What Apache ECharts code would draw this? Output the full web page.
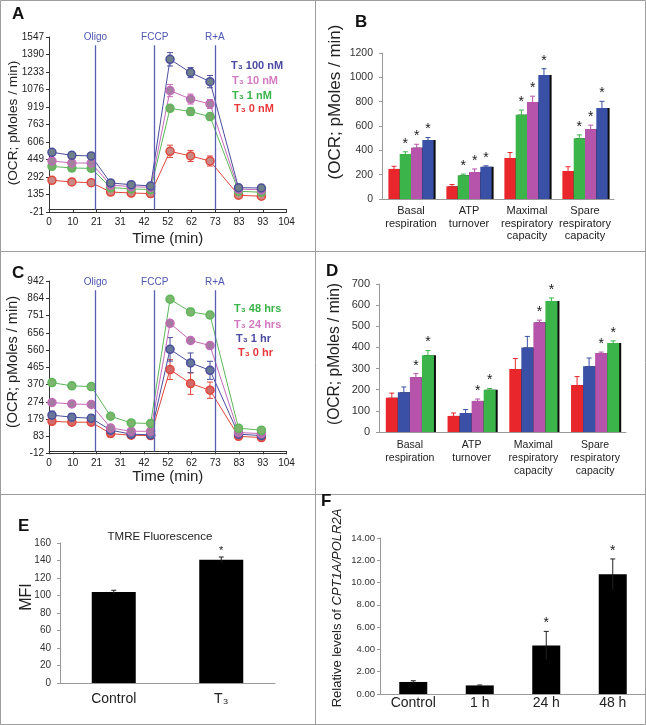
<!DOCTYPE html>
<html><head><meta charset="utf-8">
<script src="https://cdn.jsdelivr.net/npm/echarts@6/dist/echarts.min.js"></script>
<style>html,body{margin:0;padding:0;background:#fff}#c{width:646px;height:725px}</style>
</head><body><div id="c"></div><script>
// ---------- DATA ----------
const timeMin = [1.3, 10, 18.5, 27, 36, 44.5, 53, 62, 70.5, 83, 93];
const xTicksA = ['0','10','21','31','42','52','62','73','83','93','104'];
const yTicksA = ['-21','135','292','449','606','763','919','1076','1233','1390','1547'];
const yTicksC = ['-12','83','179','274','370','465','560','656','751','864','942'];
const injections = ['Oligo','FCCP','R+A'];
const injectionTimes = [20.3, 46.3, 72.6];

// Panel A (dose)
const a100 = [514, 487, 481, 239, 224, 212, 1347, 1228, 1147, 197, 194];
const a100Err = [20, 18, 18, 12, 10, 10, 60, 45, 55, 10, 10];
const a10 = [436, 418, 418, 220, 206, 200, 1067, 991, 947, 184, 178];
const a10Err = [15, 15, 15, 10, 10, 10, 55, 45, 40, 10, 10];
const a1 = [388, 373, 370, 198, 186, 180, 908, 879, 834, 165, 156];
const a1Err = [15, 15, 15, 10, 10, 10, 25, 35, 30, 10, 10];
const a0 = [263, 248, 242, 158, 149, 144, 523, 481, 436, 129, 120];
const a0Err = [15, 12, 12, 10, 10, 10, 55, 50, 45, 10, 10];

// Panel C (time)
const c48 = [380, 362, 358, 194, 157, 154, 841, 771, 754, 128, 117];
const c48Err = [15, 10, 10, 8, 6, 6, 15, 20, 20, 6, 6];
const c24 = [270, 262, 259, 129, 111, 111, 708, 613, 585, 104, 98];
const c24Err = [10, 8, 8, 8, 6, 6, 10, 10, 10, 6, 6];
const c1 = [200, 189, 183, 117, 95, 91, 564, 489, 448, 95, 87];
const c1Err = [22, 20, 18, 8, 6, 6, 65, 55, 50, 6, 6];
const c0 = [166, 161, 161, 98, 89, 87, 452, 375, 338, 83, 76];
const c0Err = [15, 12, 10, 8, 6, 6, 55, 60, 45, 6, 6];

// Panels B and D
const respCats = ['Basal\nrespiration', 'ATP\nturnover', 'Maximal\nrespiratory\ncapacity', 'Spare\nrespiratory\ncapacity'];
const b0 = [247, 104, 337, 230];   const b0Err = [22, 15, 45, 35];
const b1 = [370, 195, 693, 499];   const b1Err = [18, 10, 38, 28];
const b10 = [422, 222, 797, 575];  const b10Err = [28, 25, 48, 32];
const b100 = [485, 265, 1019, 748]; const b100Err = [20, 8, 52, 55];
const d0 = [162, 76, 298, 222];    const d0Err = [22, 14, 50, 40];
const d1 = [188, 90, 400, 311];    const d1Err = [25, 16, 52, 39];
const d24 = [260, 147, 519, 374];  const d24Err = [16, 9, 10, 4];
const d48 = [363, 200, 620, 421];  const d48Err = [22, 6, 14, 10];

// Panel E
const eCats = ['Control', 'T₃'];
const eVals = [104, 141];
const eErr = [2, 3];
const eStar = [0, 1];
// Panel F
const fCats = ['Control', '1 h', '24 h', '48 h'];
const fVals = [1.08, 0.77, 4.36, 10.74];
const fErr = [0.11, 0.04, 1.26, 1.38];
const fStar = [0, 0, 1, 1];

// ---------- STYLE ----------
const FONT = "'Liberation Sans', Arial, sans-serif";
const RED = '#e8262b', GREEN = '#3bb44a', MAG = '#b653aa', BLUE = '#3a50a6';

const chart = echarts.init(document.getElementById('c'), null, {renderer: 'canvas', width: 646, height: 725});

function lookupFmt(labels, min, step) {
  return v => { const i = Math.round((v - min) / step); return labels[i] !== undefined ? labels[i] : ''; };
}

function errLine(xi, vals, errs, color) {
  return {
    type: 'custom', xAxisIndex: xi, yAxisIndex: xi, z: 3, silent: true,
    data: timeMin.map((t, i) => [t, vals[i], errs[i]]),
    renderItem(params, api) {
      const t = api.value(0), v = api.value(1), e = api.value(2);
      const lo = api.coord([t, v - e]), hi = api.coord([t, v + e]);
      const c = 3, st = {stroke: color, lineWidth: 1};
      return {type: 'group', children: [
        {type: 'line', shape: {x1: lo[0], y1: lo[1], x2: hi[0], y2: hi[1]}, style: st},
        {type: 'line', shape: {x1: hi[0] - c, y1: hi[1], x2: hi[0] + c, y2: hi[1]}, style: st},
        {type: 'line', shape: {x1: lo[0] - c, y1: lo[1], x2: lo[0] + c, y2: lo[1]}, style: st}
      ]};
    }
  };
}
function lineSeries(xi, vals, color, fill, extra) {
  return Object.assign({
    type: 'line', xAxisIndex: xi, yAxisIndex: xi, z: 4,
    data: timeMin.map((t, i) => [t, vals[i]]),
    symbol: 'circle', symbolSize: 8, showAllSymbol: true,
    lineStyle: {color: color, width: 1},
    itemStyle: {color: fill, borderColor: color, borderWidth: 1.5}
  }, extra || {});
}
function markLines(yTop, yMin) {
  const data = injectionTimes.map((t, i) => [{coord: [t, 0], name: injections[i]}, {coord: [t, yTop]}]);
  data.push([{coord: [0, yMin], lineStyle: {color: '#333', width: 1}, label: {show: false}}, {coord: [104, yMin]}]);
  return {
    silent: true, symbol: ['none', 'none'], animation: false,
    lineStyle: {color: '#5a5fb2', width: 1.3, type: 'solid'},
    label: {show: true, position: 'end', formatter: '{b}', color: '#4d55b0', fontSize: 10, fontFamily: FONT, distance: 3},
    data: data
  };
}
function barSeries(ax, vals, color) {
  return {
    type: 'bar', xAxisIndex: ax, yAxisIndex: ax, data: vals, barGap: '0%', barCategoryGap: '22%',
    itemStyle: {color: color, shadowColor: 'rgba(0,0,0,0.95)', shadowOffsetX: 2, shadowOffsetY: 0, shadowBlur: 0}
  };
}
function errBar(ax, vals, errs, stars, idx, n, gap, color, starSize) {
  return {
    type: 'custom', xAxisIndex: ax, yAxisIndex: ax, z: 5, silent: true,
    data: vals.map((v, i) => [i, v, errs[i], stars[i]]),
    renderItem(params, api) {
      const ci = api.value(0), v = api.value(1), e = api.value(2), s = api.value(3);
      const band = api.size([1, 0])[0];
      const base = api.coord([ci, v]);
      let x = base[0];
      if (n > 1) { const total = band * (1 - gap); const w = total / n; x = base[0] - total / 2 + (idx + 0.5) * w; }
      const top = api.coord([ci, v + e])[1], bot = api.coord([ci, v - e])[1];
      const c = 2.5, st = {stroke: color, lineWidth: 1};
      const ch = [
        {type: 'line', shape: {x1: x, y1: bot, x2: x, y2: top}, style: st},
        {type: 'line', shape: {x1: x - c, y1: top, x2: x + c, y2: top}, style: st}
      ];
      if (s) ch.push({type: 'text', x: x, y: top - 1, style: {text: '*', fontSize: starSize, fontFamily: FONT, fill: '#1a1a1a', align: 'center', verticalAlign: 'bottom'}});
      return {type: 'group', children: ch};
    }
  };
}

const axisTxt = {fontFamily: FONT, color: '#222'};
const grids = [
  {left: 49, top: 37, width: 237.5, height: 175},      // A
  {left: 382, top: 53, width: 232, height: 146},       // B
  {left: 49, top: 281, width: 237.5, height: 172.5},   // C
  {left: 379, top: 284, width: 247, height: 148},      // D
  {left: 60, top: 543, width: 215, height: 140},       // E
  {left: 380, top: 538, width: 272, height: 156}       // F
];

function timeX(gi, gap) {
  return {
    type: 'value', gridIndex: gi, min: 0, max: 104, interval: 10.4,
    axisLine: {onZero: true, lineStyle: {color: '#333', width: 1}},
    axisTick: {length: 3, lineStyle: {color: '#333'}},
    axisLabel: Object.assign({fontSize: 10, margin: 5, formatter: lookupFmt(xTicksA, 0, 10.4)}, axisTxt),
    splitLine: {show: false},
    name: 'Time (min)', nameLocation: 'middle', nameGap: gap,
    nameTextStyle: {fontSize: 15, fontFamily: FONT, color: '#222'}
  };
}
function ocrY(gi, min, max, step, labels) {
  return {
    type: 'value', gridIndex: gi, min: min, max: max, interval: step,
    axisLine: {show: true, onZero: false, lineStyle: {color: '#333'}},
    axisTick: {show: true, length: 3, lineStyle: {color: '#333'}},
    axisLabel: Object.assign({fontSize: 10, margin: 5, formatter: lookupFmt(labels, min, step)}, axisTxt),
    splitLine: {show: false}
  };
}
function catX(gi, cats, fs, lh, margin) {
  return {
    type: 'category', gridIndex: gi, data: cats,
    axisLine: {lineStyle: {color: '#999'}},
    axisTick: {length: 4, lineStyle: {color: '#999'}},
    axisLabel: Object.assign({fontSize: fs, lineHeight: lh, margin: margin, interval: 0}, axisTxt),
    splitLine: {show: false}
  };
}
function barY(gi, max, step, fs, margin, fmt) {
  return {
    type: 'value', gridIndex: gi, min: 0, max: max, interval: step,
    axisLine: {show: true, lineStyle: {color: '#999'}},
    axisTick: {show: true, length: 3, lineStyle: {color: '#999'}},
    axisLabel: Object.assign({fontSize: fs, margin: margin, formatter: fmt || (v => String(v))}, axisTxt, {color: '#333'}),
    splitLine: {show: false}
  };
}

function legText(x, y, label, color) {
  return {type: 'text', x: x, y: y, silent: true,
    style: {text: label, fill: color, fontSize: 11, fontWeight: 'bold', fontFamily: FONT, align: 'left', verticalAlign: 'middle'}};
}
function vText(x, y, text, fs, rich) {
  return {type: 'text', x: x, y: y, rotation: Math.PI / 2, silent: true,
    style: {text: text, fill: '#222', fontSize: fs, fontFamily: FONT, align: 'center', verticalAlign: 'middle', rich: rich}};
}
function panelLetter(x, y, t) {
  return {type: 'text', x: x, y: y, silent: true,
    style: {text: t, fill: '#111', fontSize: 17, fontWeight: 'bold', fontFamily: FONT, align: 'left', verticalAlign: 'middle'}};
}
const bc = '#9d9d9d';
const graphics = [
  {type: 'rect', shape: {x: 0.5, y: 0.5, width: 645, height: 724}, style: {fill: 'none', stroke: bc, lineWidth: 1}, silent: true},
  {type: 'line', shape: {x1: 315.5, y1: 0, x2: 315.5, y2: 725}, style: {stroke: bc, lineWidth: 1}, silent: true},
  {type: 'line', shape: {x1: 0, y1: 251.5, x2: 646, y2: 251.5}, style: {stroke: bc, lineWidth: 1}, silent: true},
  {type: 'line', shape: {x1: 0, y1: 494.5, x2: 646, y2: 494.5}, style: {stroke: bc, lineWidth: 1}, silent: true},
  panelLetter(12, 14, 'A'), panelLetter(355, 22.5, 'B'), panelLetter(12, 273.5, 'C'),
  panelLetter(326, 271, 'D'), panelLetter(18, 526, 'E'), panelLetter(321, 501, 'F'),
  legText(231, 66, 'T₃ 100 nM', '#4a4aa2'), legText(232, 81, 'T₃ 10 nM', '#d27ac0'),
  legText(232, 96, 'T₃ 1 nM', '#3bb44a'), legText(234, 108.5, 'T₃ 0 nM', '#e8383a'),
  legText(234, 309, 'T₃ 48 hrs', '#3bb44a'), legText(234, 325, 'T₃ 24 hrs', '#d27ac0'),
  legText(236, 339, 'T₃ 1 hr', '#4a4aa2'), legText(238, 353, 'T₃ 0 hr', '#e8383a'),
  vText(13, 123, '(OCR; pMoles / min)', 13.7),
  vText(335, 102, '(OCR; pMoles / min)', 17),
  vText(13, 362, '(OCR; pMoles / min)', 14.5),
  vText(335, 354, '(OCR; pMoles / min)', 15.6),
  vText(27, 597, 'MFI', 16),
  vText(337, 608, 'Relative levels of {i|CPT1A/POLR2A}', 13, {i: {fontStyle: 'italic', fontSize: 13, fontFamily: FONT, fill: '#222'}}),
  {type: 'text', x: 160, y: 537, silent: true, style: {text: 'TMRE Fluorescence', fill: '#222', fontSize: 11.5, fontFamily: FONT, align: 'center', verticalAlign: 'middle'}}
];

const option = {
  animation: false,
  backgroundColor: '#fff',
  textStyle: {fontFamily: FONT},
  grid: grids,
  xAxis: [
    timeX(0, 19),
    catX(1, respCats, 11, 12.5, 6),
    timeX(2, 16),
    catX(3, respCats, 10.5, 13, 7),
    catX(4, eCats, 14, 16, 8),
    catX(5, fCats, 14, 16, 1)
  ],
  yAxis: [
    ocrY(0, -21, 1547, 156.8, yTicksA),
    barY(1, 1200, 200, 10.5, 9),
    ocrY(2, -12, 942, 95.4, yTicksC),
    barY(3, 700, 100, 11, 9),
    barY(4, 160, 20, 10, 9),
    barY(5, 14, 2, 9.5, 5, v => v.toFixed(2))
  ],
  graphic: graphics,
  series: [
    // A
    errLine(0, a0, a0Err, '#e0463c'), errLine(0, a1, a1Err, '#5db85a'),
    errLine(0, a10, a10Err, '#c46ab8'), errLine(0, a100, a100Err, '#4b4e9c'),
    lineSeries(0, a0, '#e0463c', '#c98a86', {markLine: markLines(1473, -21)}),
    lineSeries(0, a1, '#5db85a', '#78aa6c'),
    lineSeries(0, a10, '#c46ab8', '#a3819f'),
    lineSeries(0, a100, '#4b4e9c', '#6f8088'),
    // C
    errLine(2, c0, c0Err, '#e0463c'), errLine(2, c1, c1Err, '#4b4e9c'),
    errLine(2, c24, c24Err, '#c46ab8'), errLine(2, c48, c48Err, '#5db85a'),
    lineSeries(2, c0, '#e0463c', '#d36a6a', {markLine: markLines(891, -12)}),
    lineSeries(2, c1, '#4b4e9c', '#67779a'),
    lineSeries(2, c24, '#c46ab8', '#a57aa0'),
    lineSeries(2, c48, '#5db85a', '#7db46e'),
    // B
    barSeries(1, b0, RED), barSeries(1, b1, GREEN), barSeries(1, b10, MAG), barSeries(1, b100, BLUE),
    errBar(1, b0, b0Err, [0,0,0,0], 0, 4, 0.22, RED, 14),
    errBar(1, b1, b1Err, [1,1,1,1], 1, 4, 0.22, GREEN, 14),
    errBar(1, b10, b10Err, [1,1,1,1], 2, 4, 0.22, MAG, 14),
    errBar(1, b100, b100Err, [1,1,1,1], 3, 4, 0.22, BLUE, 14),
    // D
    barSeries(3, d0, RED), barSeries(3, d1, BLUE), barSeries(3, d24, MAG), barSeries(3, d48, GREEN),
    errBar(3, d0, d0Err, [0,0,0,0], 0, 4, 0.22, RED, 14),
    errBar(3, d1, d1Err, [0,0,0,0], 1, 4, 0.22, BLUE, 14),
    errBar(3, d24, d24Err, [1,1,1,1], 2, 4, 0.22, MAG, 14),
    errBar(3, d48, d48Err, [1,1,1,1], 3, 4, 0.22, GREEN, 14),
    // E
    {type: 'bar', xAxisIndex: 4, yAxisIndex: 4, data: eVals, barWidth: 44, itemStyle: {color: '#000'}},
    errBar(4, eVals, eErr, eStar, 0, 1, 0, '#222', 11),
    // F
    {type: 'bar', xAxisIndex: 5, yAxisIndex: 5, data: fVals, barWidth: 28, itemStyle: {color: '#000'}},
    errBar(5, fVals, fErr, fStar, 0, 1, 0, '#222', 14)
  ]
};
chart.setOption(option);
</script></body></html>
